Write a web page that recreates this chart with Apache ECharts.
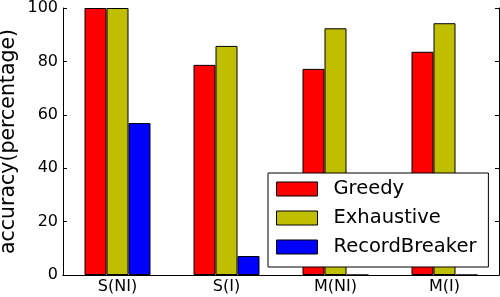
<!DOCTYPE html>
<html><head><meta charset="utf-8">
<script src="https://cdn.jsdelivr.net/npm/echarts@6/dist/echarts.min.js"></script>
<style>html,body{margin:0;padding:0;background:#fff}#c{width:500px;height:297px}</style>
</head><body><div id="c"></div>
<script>
const categories = ['S(NI)', 'S(I)', 'M(NI)', 'M(I)'];
const greedy = [100, 78.7, 77.2, 83.6];
const exhaustive = [100, 85.8, 92.4, 94.3];
const recordBreaker = [56.9, 7.1, 0, 0];
const yTicks = [0, 20, 40, 60, 80, 100];

const font = 'DejaVu Sans';
const chart = echarts.init(document.getElementById('c'), null, {renderer: 'canvas'});
const mk = (name, data, color) => ({
  name, type: 'bar', data, barWidth: 22, barGap: '0%',
  itemStyle: {color, borderColor: '#000', borderWidth: 1},
  xAxisIndex: 0, yAxisIndex: 0, animation: false
});
chart.setOption({
  animation: false,
  grid: {left: 63, right: 1, top: 8, bottom: 22, show: false, containLabel: false, outerBoundsMode: 'none'},
  xAxis: [
    {type: 'category', data: categories, position: 'bottom',
     axisLine: {lineStyle: {color: '#000', width: 1}},
     axisTick: {inside: true, alignWithLabel: true, length: 4, lineStyle: {color: '#000'}},
     axisLabel: {color: '#000', fontFamily: font, fontSize: 16, margin: 4},
     splitLine: {show: false}},
    {type: 'category', data: categories, position: 'top',
     axisLine: {lineStyle: {color: '#000', width: 1}},
     axisTick: {inside: true, alignWithLabel: true, length: 4, lineStyle: {color: '#000'}},
     axisLabel: {show: false}, splitLine: {show: false}}
  ],
  yAxis: [
    {type: 'value', min: 0, max: 100, interval: 20, position: 'left',
     name: 'accuracy(percentage)', nameLocation: 'middle', nameGap: 44, nameMoveOverlap: false,
     nameTextStyle: {color: '#000', fontFamily: font, fontSize: 20.5},
     axisLine: {show: true, lineStyle: {color: '#000', width: 1}},
     axisTick: {show: true, inside: true, length: 4, lineStyle: {color: '#000'}},
     axisLabel: {color: '#000', fontFamily: font, fontSize: 16, margin: 5,
       formatter: v => yTicks.includes(v) ? String(v) : ''},
     splitLine: {show: false}},
    {type: 'value', min: 0, max: 100, interval: 20, position: 'right',
     axisLine: {show: true, lineStyle: {color: '#000', width: 1}},
     axisTick: {show: true, inside: true, length: 4, lineStyle: {color: '#000'}},
     axisLabel: {show: false}, splitLine: {show: false}}
  ],
  legend: {
    orient: 'vertical', left: 268, top: 173,
    backgroundColor: '#fff', borderColor: '#000', borderWidth: 1, borderRadius: 0,
    padding: [6, 12, 10, 8], itemGap: 9, itemWidth: 41, itemHeight: 14,
    icon: 'rect',
    itemStyle: {borderColor: '#000', borderWidth: 1},
    textStyle: {color: '#000', fontFamily: font, fontSize: 19.5, padding: [0, 0, 0, 11]},
    data: ['Greedy', 'Exhaustive', 'RecordBreaker']
  },
  series: [
    mk('Greedy', greedy, '#ff0000'),
    mk('Exhaustive', exhaustive, '#bfbf00'),
    mk('RecordBreaker', recordBreaker, '#0000ff')
  ]
});
</script></body></html>
